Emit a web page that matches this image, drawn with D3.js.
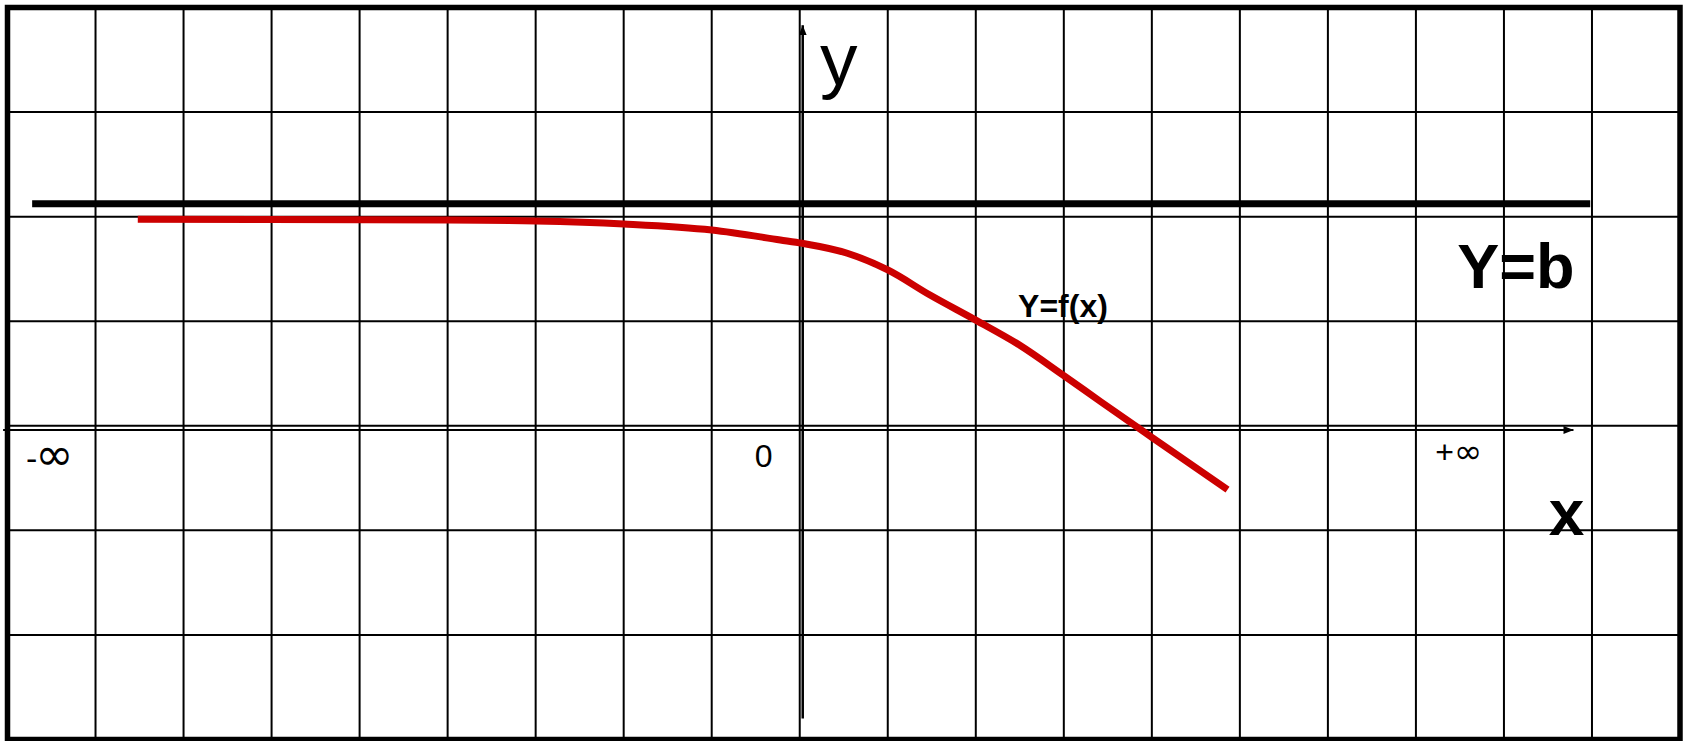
<!DOCTYPE html>
<html>
<head>
<meta charset="utf-8">
<script src="https://cdn.jsdelivr.net/npm/d3@7"></script>
<style>
  html, body { margin: 0; padding: 0; background: #fff; }
  svg { display: block; font-family: "Liberation Sans", Arial, sans-serif; }
</style>
</head>
<body>
<div id="chart"></div>
<script>
// grid cells (one unit = one cell)
const gridX = d3.range(-9, 11);
const gridY = d3.range(-3, 5);

// f(x), in cell units
const curveX = [-7.52, -6, -5, -4, -3, -2, -1, -0.22, 0.03, 0.54, 1.0, 1.48, 2.0, 2.5, 3.0, 3.42, 4.0, 4.86];
const curveY = [1.975, 1.972, 1.97, 1.968, 1.959, 1.93, 1.872, 1.777, 1.745, 1.65, 1.49, 1.25, 1.01, 0.77, 0.48, 0.23, -0.11, -0.61];

// asymptote Y = b
const asymY = 2.123;
const asymX = [-8.72, 8.98];

// axes extents
const xAxisExt = [-9.05, 8.79], xAxisAt = -0.04;
const yAxisExt = [-2.8, 3.83], yAxisAt = 0.034;

const W = 1688, H = 741;

const svg = d3.select("#chart").append("svg")
    .attr("width", W)
    .attr("height", H);

const x = d3.scaleLinear().domain([-9, 10]).range([7.5, 1680]);
const y = d3.scaleLinear().domain([-3, 4]).range([739.5, 7.5]);

// grid lines
svg.append("g")
    .selectAll("line.v")
    .data(gridX)
    .join("line")
    .attr("x1", d => x(d)).attr("x2", d => x(d))
    .attr("y1", y(4)).attr("y2", y(-3))
    .attr("stroke", "#000")
    .attr("stroke-width", 2);

svg.append("g")
    .selectAll("line.h")
    .data(gridY)
    .join("line")
    .attr("x1", x(-9)).attr("x2", x(10))
    .attr("y1", d => y(d)).attr("y2", d => y(d))
    .attr("stroke", "#000")
    .attr("stroke-width", 2);

// outer frame
svg.append("rect")
    .attr("x", x(-9)).attr("y", y(4))
    .attr("width", x(10) - x(-9))
    .attr("height", y(-3) - y(4))
    .attr("fill", "none")
    .attr("stroke", "#000")
    .attr("stroke-width", 5.5);

// arrow heads
const defs = svg.append("defs");
defs.append("marker")
    .attr("id", "arrow")
    .attr("viewBox", "0 0 10 8")
    .attr("refX", 10).attr("refY", 4)
    .attr("markerWidth", 10).attr("markerHeight", 8)
    .attr("markerUnits", "userSpaceOnUse")
    .attr("orient", "auto")
    .append("path")
    .attr("d", "M0,0 L10,4 L0,8 Z")
    .attr("fill", "#000");

// x axis
svg.append("line")
    .attr("x1", x(xAxisExt[0])).attr("x2", x(xAxisExt[1]))
    .attr("y1", y(xAxisAt)).attr("y2", y(xAxisAt))
    .attr("stroke", "#000")
    .attr("stroke-width", 2)
    .attr("marker-end", "url(#arrow)");

// y axis
svg.append("line")
    .attr("x1", x(yAxisAt)).attr("x2", x(yAxisAt))
    .attr("y1", y(yAxisExt[0])).attr("y2", y(yAxisExt[1]))
    .attr("stroke", "#000")
    .attr("stroke-width", 2.5)
    .attr("marker-end", "url(#arrow)");

// asymptote
svg.append("line")
    .attr("x1", x(asymX[0])).attr("x2", x(asymX[1]))
    .attr("y1", y(asymY)).attr("y2", y(asymY))
    .attr("stroke", "#000")
    .attr("stroke-width", 7);

// the curve
const pts = curveX.map((d, i) => [d, curveY[i]]);
const line = d3.line()
    .x(d => x(d[0]))
    .y(d => y(d[1]))
    .curve(d3.curveMonotoneX);

svg.append("path")
    .datum(pts)
    .attr("d", line)
    .attr("fill", "none")
    .attr("stroke", "#cc0000")
    .attr("stroke-width", 7);

// labels
const dejavu = "'DejaVu Sans', sans-serif";
const labels = [
    {t: "y", x: 0.23, y: 3.26, size: 75, w: "normal"},
    {t: "Y=b", x: 7.47, y: 1.318, size: 63, w: "bold"},
    {t: "Y=f(x)", x: 2.48, y: 1.045, size: 32, w: "bold"},
    {t: "-", sym: "∞", symSize: 46, dx: -2, x: -8.79, y: -0.42, size: 34, w: "normal"},
    {t: "+", sym: "∞", symSize: 34, dx: 0, x: 7.22, y: -0.36, size: 32, w: "normal"},
    {t: "0", x: -0.51, y: -0.395, size: 32, w: "normal"},
    {t: "x", x: 8.51, y: -1.04, size: 64, w: "bold"}
];

const lbl = svg.append("g")
    .selectAll("text")
    .data(labels)
    .join("text")
    .attr("x", d => x(d.x))
    .attr("y", d => y(d.y))
    .attr("font-size", d => d.size)
    .attr("font-weight", d => d.w)
    .attr("fill", "#000");

lbl.append("tspan").text(d => d.t);
lbl.filter(d => d.sym)
    .append("tspan")
    .attr("dx", d => d.dx)
    .attr("font-family", dejavu)
    .attr("font-size", d => d.symSize)
    .text(d => d.sym);
</script>
</body>
</html>
